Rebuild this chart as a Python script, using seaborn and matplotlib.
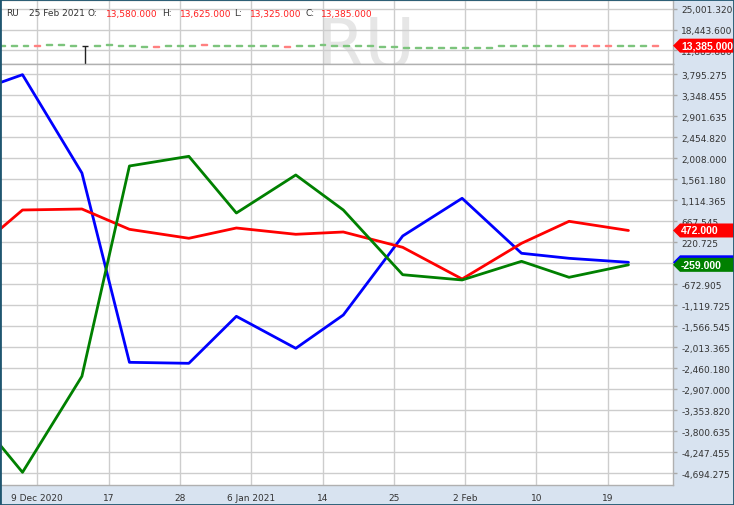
import matplotlib
matplotlib.use("Agg")
import matplotlib.pyplot as plt
from matplotlib.patches import Rectangle, Polygon
import pandas as pd
import seaborn as sns

# trading calendar (exchange holidays removed)
calendar_start = "2020-12-01"
calendar_end = "2021-02-25"
holidays = ["2020-12-25", "2021-01-01", "2021-01-18", "2021-02-15"]

# weekly net positions (three groups)
report_dates = ["2020-12-01", "2020-12-08", "2020-12-15", "2020-12-21", "2020-12-29",
                "2021-01-05", "2021-01-12", "2021-01-19", "2021-01-26", "2021-02-02",
                "2021-02-09", "2021-02-16", "2021-02-23"]
blue_net = [3338, 3787, 1695, -2333, -2354, -1354, -2035, -1326, 355, 1157, -13, -120, -205]
red_net = [-173, 908, 929, 497, 306, 525, 391, 440, 114, -560, 199, 667, 472]
green_net = [-3137, -4673, -2630, 1844, 2050, 844, 1653, 908, -469, -581, -184, -524, -259]

# daily price candles, 4 Dec 2020 .. 25 Feb 2021
candle_start = "2020-12-04"
candle_open = [13240, 13300, 13260, 13540, 13560, 13600, 13250, 13385, 13240, 13580,
               13250, 13300, 12950, 13220, 13240, 13270, 13250, 13860, 13240, 13260,
               13250, 13240, 13260, 13250, 13200, 13250, 13240, 13560, 13250, 13240,
               13260, 13250, 12940, 12960, 12740, 12750, 12760, 12740, 12750, 12760,
               12740, 12750, 13240, 13250, 13260, 13240, 13250, 13260, 13530, 13520,
               13540, 13510, 13250, 13240, 13260, 13580]
candle_close = [13530, 13480, 13500, 13230, 13820, 13880, 13520, 13385, 13510, 13850,
                13520, 13460, 13200, 12920, 13530, 13490, 13520, 13570, 13530, 13510,
                13520, 13530, 13500, 13520, 12930, 13520, 13530, 13840, 13510, 13530,
                13520, 13500, 13210, 13190, 13010, 13020, 13000, 13030, 13010, 13020,
                13000, 13020, 13530, 13520, 13510, 13530, 13520, 13500, 13240, 13250,
                13230, 13260, 13520, 13530, 13510, 13385]
spike_date = "2020-12-15"
spike_low = 7000

header_parts = ["RU", "25 Feb 2021", "O:", "13,580.000", "H:", "13,625.000",
                "L:", "13,325.000", "C:", "13,385.000"]

tick_dates = ["2020-12-09", "2020-12-17", "2020-12-28", "2021-01-06", "2021-01-14",
              "2021-01-25", "2021-02-02", "2021-02-10", "2021-02-19"]
tick_labels = ["9 Dec 2020", "17", "28", "6 Jan 2021", "14", "25", "2 Feb", "10", "19"]

price_ticks = [25001.320, 18443.600, 11885.880]
net_ticks = [3795.275, 3348.455, 2901.635, 2454.820, 2008.000, 1561.180, 1114.365,
             667.545, 220.725, -226.095, -672.905, -1119.725, -1566.545, -2013.365,
             -2460.180, -2907.000, -3353.820, -3800.635, -4247.455, -4694.275]

sns.set_style("white")
plt.rcParams["font.family"] = ["DejaVu Sans"]

days = pd.bdate_range(calendar_start, calendar_end, freq="C", holidays=holidays)
pos = {d: i for i, d in enumerate(days)}

W, H = 734, 506
fig = plt.figure(figsize=(W / 100, H / 100), dpi=100)
fig.patch.set_facecolor("white")

panel_blue = "#d8e3f0"
grid_col = "#cdcdcd"
text_col = "#333333"

# axis panels behind the plot
fig.patches.append(Rectangle((673 / W, 0), 1, 1, transform=fig.transFigure,
                             facecolor=panel_blue, edgecolor="none", zorder=-5))
fig.patches.append(Rectangle((0, 0), 1, 20 / H, transform=fig.transFigure,
                             facecolor=panel_blue, edgecolor="none", zorder=-5))

ax_top = fig.add_axes([1 / W, (H - 65) / H, 672 / W, 64 / H])
ax = fig.add_axes([1 / W, 20 / H, 672 / W, 421 / H], sharex=ax_top)

x_left, x_right = 2.94, 59.5
tick_pos = [pos[pd.Timestamp(d)] for d in tick_dates]

for a in (ax_top, ax):
    a.set_facecolor("white")
    a.set_xlim(x_left, x_right)
    a.set_axisbelow(True)
    a.grid(True, color=grid_col, lw=1)
    a.yaxis.tick_right()
    a.tick_params(axis="y", which="both", direction="out", length=3, width=1,
                  color="#a8a8a8", labelsize=6.5, labelcolor=text_col, pad=3)
    a.spines["left"].set_visible(False)
    for s in ("top", "bottom", "right"):
        a.spines[s].set_color("#b0b0b0")
        a.spines[s].set_linewidth(1)
    a.set_xticks(tick_pos)

# ---- top price panel
ax_top.set_ylim(7577, 27852)
ax_top.set_yticks(price_ticks)
ax_top.set_yticklabels([f"{v:,.3f}" for v in price_ticks])
ax_top.tick_params(axis="x", length=0, labelbottom=False)

cdays = days[days >= pd.Timestamp(candle_start)]
cx = [pos[d] for d in cdays]
for xi, o, c in zip(cx, candle_open, candle_close):
    if c > o:
        col = "#7cc47c"
    elif c < o:
        col = "#ff8080"
    else:
        col = "#222222"
    ax_top.bar(xi, max(abs(c - o), 1), bottom=min(o, c), width=0.5,
               color=col, edgecolor=col, linewidth=1, zorder=3)
sx = pos[pd.Timestamp(spike_date)]
ax_top.vlines(sx, spike_low, candle_close[cx.index(sx)], color="#222222", lw=1, zorder=3)

ax_top.text((366 - 1) / 672, -0.05, "RU", transform=ax_top.transAxes, ha="center",
            va="baseline", fontsize=50, color="#e6e6e6", zorder=0.4, clip_on=True)

# header line
header_x = [6, 29, 88, 106, 162, 180, 234, 250, 305, 321]
for i, (hx, txt) in enumerate(zip(header_x, header_parts)):
    col = "#ff2020" if i >= 3 and i % 2 == 1 else text_col
    fig.text(hx / W, 1 - 14 / H, txt, ha="left", va="center", fontsize=6.5, color=col)

# ---- main net positions panel
df = pd.DataFrame({
    "date": pd.to_datetime(report_dates * 3),
    "group": ["blue"] * 13 + ["red"] * 13 + ["green"] * 13,
    "net": blue_net + red_net + green_net,
})
df["x"] = [pos[d] - 0.25 for d in df["date"]]
sns.lineplot(data=df, x="x", y="net", hue="group", sort=False, legend=False,
             palette={"blue": "#0000ff", "red": "#ff0000", "green": "#008000"},
             linewidth=2, ax=ax, zorder=3)
ax.set_xlabel("")
ax.set_ylabel("")
ax.set_ylim(-4943, 4014)
ax.set_yticks(net_ticks)
ax.set_yticklabels([f"{v:,.3f}" for v in net_ticks])
ax.set_xticks(tick_pos)
ax.set_xticklabels(tick_labels)
ax.tick_params(axis="x", direction="out", length=3, width=1, color="#a8a8a8",
               labelsize=6.5, labelcolor=text_col, pad=3)


def tag(a, value, txt, color, z):
    # price tag in the right axis panel, arrow pointing at the plot edge
    yc = a.transData.transform((0, value))[1]
    x0 = 673
    pts = [(x0, yc), (x0 + 7, yc + 7), (W, yc + 7), (W, yc - 7), (x0 + 7, yc - 7)]
    fig.patches.append(Polygon(pts, closed=True, transform=None, facecolor=color,
                               edgecolor="none", zorder=z))
    fig.text((x0 + 8) / W, yc / H, txt, ha="left", va="center", color="white",
             fontsize=7.5, fontweight="bold", family=["Liberation Sans", "DejaVu Sans"],
             zorder=z + 0.5)


tag(ax_top, 13385, "13,385.000", "#ff0000", 10)
tag(ax, red_net[-1], f"{red_net[-1]:,.3f}", "#ff0000", 10)
tag(ax, blue_net[-1], f"{blue_net[-1]:,.3f}", "#0000ff", 11)
tag(ax, green_net[-1], f"{green_net[-1]:,.3f}", "#008000", 12)

# outer frame
fig.patches.append(Rectangle((0, 0), 1, 1, transform=fig.transFigure, fill=False,
                             edgecolor="#1f5670", linewidth=2, zorder=20))

fig.savefig("out.png", dpi=100)
